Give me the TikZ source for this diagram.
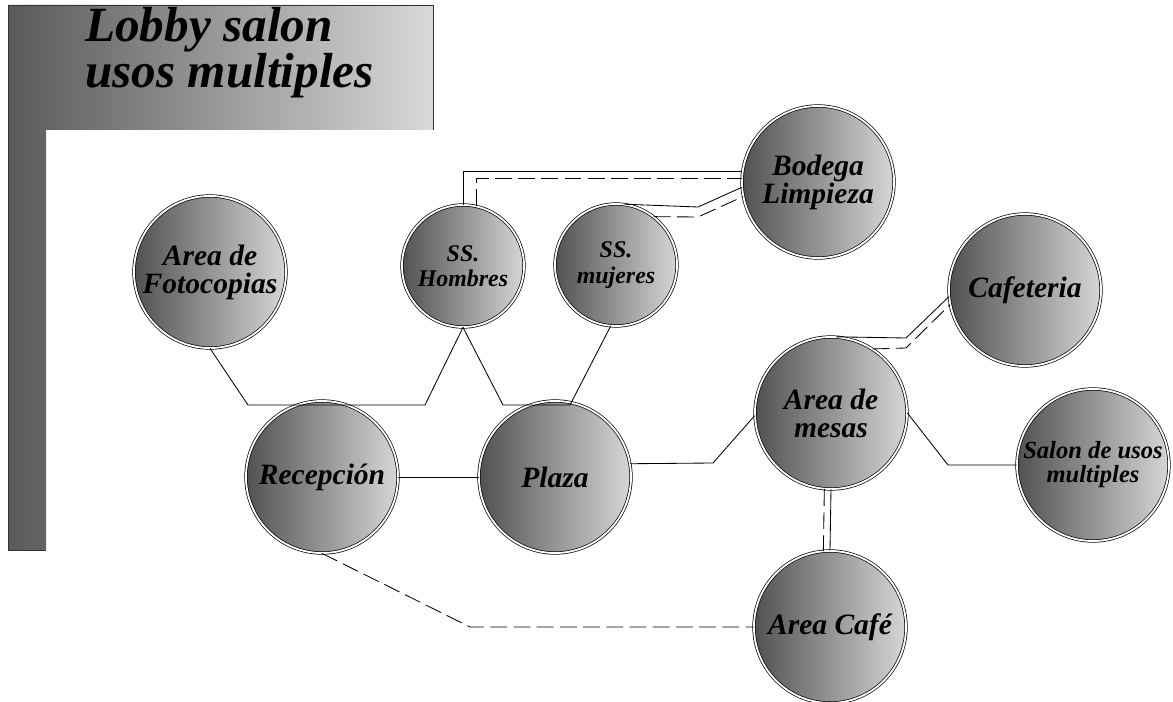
\documentclass[tikz,border=0pt]{standalone}
\usepackage{fontspec}
\setmainfont{Liberation Serif}

\definecolor{roomdark}{gray}{0.32}
\definecolor{roomlight}{gray}{0.84}
\definecolor{titledark}{gray}{0.35}
\definecolor{titlelight}{gray}{0.85}

\begin{document}
\begin{tikzpicture}[x=0.025cm, y=-0.025cm]
    \tikzset{
        room/.style={circle, draw, double, double distance=1.3pt, line width=0.5pt,
            left color=roomdark, right color=roomlight, minimum size=3.8cm, inner sep=0pt,
            align=center, font=\bfseries\itshape\fontsize{21}{20}\selectfont},
        smallroom/.style={room, minimum size=3.05cm, font=\bfseries\itshape\fontsize{17}{18}\selectfont},
        link/.style={line width=0.6pt},
        dlink/.style={link, dash pattern=on 12pt off 4.5pt}
    }
    \useasboundingbox (0,0) rectangle (1173,702);

    % title block
    \shade[left color=titledark, right color=titlelight]
        (8,5) -- (433,5) -- (433,130) -- (46,130) -- (46,550) -- (8,550) -- cycle;
    \draw[line width=0.7pt, black!80] (433,130) -- (433,5) -- (8,5) -- (8,550) -- (46,550);
    \node[anchor=base west, inner sep=0pt, align=left,
        font=\bfseries\itshape\fontsize{35}{31}\selectfont] (title) at (85,88)
        {Lobby salon\\ usos multiples};

    % rooms
    \node[room] (foto) at (210,272) {Area de\\Fotocopias};
    \node[smallroom] (hombres) at (463,266) {SS.\\Hombres};
    \node[smallroom] (mujeres) at (616,265) {SS.\\mujeres};
    \node[room] (bodega) at (818,182) {Bodega\\Limpieza};
    \node[room] (cafeteria) at (1025,290) {Cafeteria};
    \node[room] (mesas) at (831,413) {Area de\\mesas};
    \node[room, font=\bfseries\itshape\fontsize{17.5}{17}\selectfont] (salon) at (1093,465) {Salon de usos\\multiples};
    \node[room] (recep) at (322,477) {Recepción};
    \node[room] (plaza) at (555,477) {Plaza};
    \node[room] (cafe) at (830,627) {Area Café};

    % links
    \draw[link] (foto.south) -- (248,405) -- (425,405) -- (hombres.south);
    \draw[link] (hombres.south) -- (503,405) -- (570,405) -- (mujeres.265);
    \draw[link] (recep.east) -- (plaza.west);
    \draw[link] (plaza.10) -- (713,463) -- (mesas.182);
    \draw[link] (mesas.east) -- (948,465) -- (salon.west);
    \draw[dlink] (recep.south) -- (470,627) -- (cafe.west);

    % double links
    \draw[link] (hombres.north) |- (bodega.172);
    \draw[dlink] (hombres.77) |- (bodega.177);
    \draw[link] (mujeres.82) -- (698,207) -- (bodega.184);
    \draw[dlink] (mujeres.52) -- (698,217) -- (bodega.191);
    \draw[link] (mesas.86) -- (906,338) -- (cafeteria.185);
    \draw[dlink] (mesas.57) -- (906,348) -- (cafeteria.191);
    \draw[link] (mesas.south) -- (cafe.north);
    \draw[dlink] (mesas.265) -- (cafe.95);
\end{tikzpicture}
\end{document}
